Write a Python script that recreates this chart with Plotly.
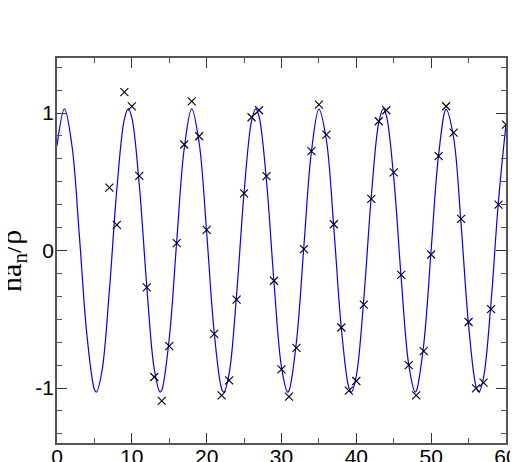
import plotly.graph_objects as go

# Smooth (fitted) curve (unit steps plus the extrema)
curve_x = [0, 1, 2, 3, 4, 5, 5.26, 6, 7, 8, 9, 9.52, 10, 11, 12, 13, 13.78, 14, 15, 16,
           17, 18, 19, 20, 21, 22, 22.3, 23, 24, 25, 26, 26.56, 27, 28, 29, 30, 30.82, 31,
           32, 33, 34, 35, 36, 37, 38, 39, 39.34, 40, 41, 42, 43, 43.6, 44, 45, 46, 47,
           47.86, 48, 49, 50, 51, 52, 53, 54, 55, 56, 56.38, 57, 58, 59, 60]
curve_y = [0.762, 1.030, 0.762, 0.099, -0.616, -1.011, -1.030, -0.880, -0.292, 0.448,
           0.955, 1.030, 0.966, 0.475, -0.263, -0.864, -1.030, -1.017, -0.640, 0.068,
           0.742, 1.030, 0.782, 0.129, -0.592, -1.005, -1.030, -0.896, -0.321, 0.421,
           0.943, 1.030, 0.976, 0.502, -0.234, -0.848, -1.030, -1.021, -0.663, 0.038,
           0.720, 1.028, 0.802, 0.159, -0.567, -0.998, -1.030, -0.910, -0.350, 0.393,
           0.931, 1.030, 0.985, 0.528, -0.204, -0.830, -1.030, -1.024, -0.686, 0.008,
           0.699, 1.026, 0.820, 0.188, -0.542, -0.990, -1.030, -0.924, -0.378, 0.365,
           0.918]

# Data points (crosses)
pts_x = list(range(7, 61))
pts_y = [0.457, 0.186, 1.152, 1.048, 0.543, -0.268, -0.920, -1.094, -0.696, 0.054,
         0.771, 1.085, 0.831, 0.150, -0.606, -1.053, -0.944, -0.357, 0.415, 0.969,
         1.020, 0.541, -0.220, -0.864, -1.063, -0.708, 0.010, 0.722, 1.061, 0.843,
         0.191, -0.560, -1.019, -0.949, -0.394, 0.375, 0.940, 1.020, 0.568, -0.178,
         -0.833, -1.053, -0.732, -0.029, 0.686, 1.049, 0.858, 0.230, -0.520, -1.002,
         -0.961, -0.427, 0.333, 0.916]

x_ticks = [0, 10, 20, 30, 40, 50, 60]
y_ticks = [-1, 0, 1]
y_title = "na<sub>n</sub>/ρ"

fig = go.Figure()
fig.add_trace(go.Scatter(x=curve_x, y=curve_y, mode="lines",
                         line=dict(color="#0000ff", width=1.2, shape="spline", smoothing=1.0),
                         hoverinfo="skip", showlegend=False))
fig.add_trace(go.Scatter(x=pts_x, y=pts_y, mode="markers",
                         marker=dict(symbol="x-thin", size=8, color="black",
                                     line=dict(color="black", width=1.1)),
                         showlegend=False))

axis_common = dict(showline=True, linecolor="#555555", linewidth=1.5, mirror="allticks",
                   ticks="inside", tickcolor="#333333", tickwidth=1.2, ticklen=10,
                   showgrid=False, zeroline=False, automargin=False,
                   tickfont=dict(family="Liberation Sans, Arial", size=21, color="black"))

fig.update_xaxes(range=[0, 60], tickvals=x_ticks, ticktext=[str(v) for v in x_ticks],
                 minor=dict(dtick=5, tick0=0, ticks="inside", ticklen=5,
                            tickcolor="#555555", tickwidth=1.2, showgrid=False),
                 ticklabelstandoff=-6,
                 **axis_common)
fig.update_yaxes(range=[-1.4, 1.4], tickvals=y_ticks, ticktext=[str(v) for v in y_ticks],
                 minor=dict(dtick=1/6, tick0=0, ticks="inside", ticklen=5,
                            tickcolor="#555555", tickwidth=1.2, showgrid=False),
                 ticklabelstandoff=-3,
                 **axis_common)

fig.add_annotation(text=y_title, xref="paper", yref="paper", x=-0.098, y=0.473,
                   xanchor="center", yanchor="middle", textangle=-90, showarrow=False,
                   font=dict(family="Liberation Serif", size=30, color="black"))

fig.update_layout(width=518, height=462, margin=dict(l=49, r=20, t=50, b=27),
                  paper_bgcolor="white", plot_bgcolor="white")

fig.write_html("out.html")
